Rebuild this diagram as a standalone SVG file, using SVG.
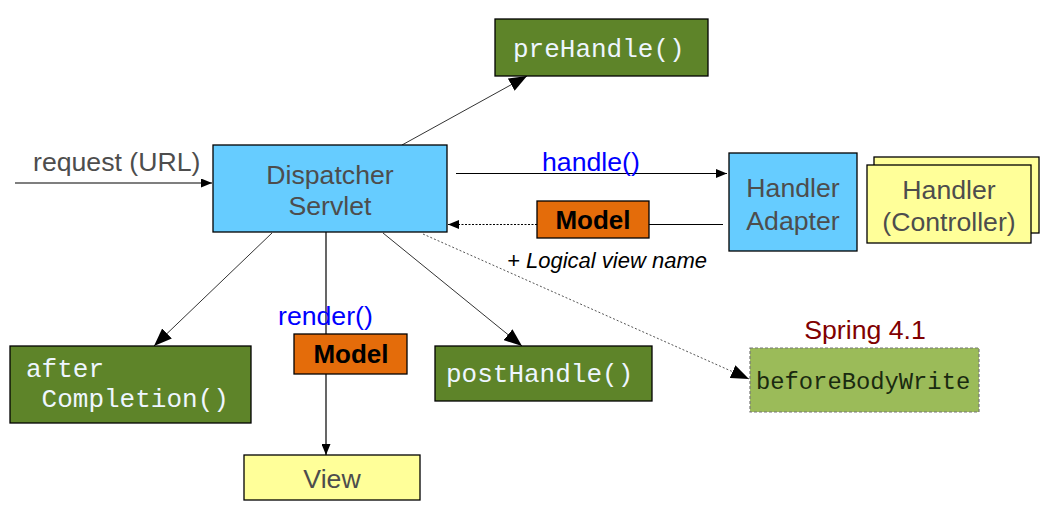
<svg xmlns="http://www.w3.org/2000/svg" width="1054" height="522" viewBox="0 0 1054 522">
<style>
.box{stroke:#000;stroke-width:1.3}
.blue{fill:#66ccff}
.green{fill:#5e8429}
.yellow{fill:#ffff99}
.orange{fill:#e46c0a}
.sans{font-family:"Liberation Sans",Arial,sans-serif;font-size:26.67px;fill:#4d4d4d}
.mono{font-family:"Liberation Mono","Courier New",monospace;font-size:26px;fill:#eef6ff}
.model{font-family:"Liberation Sans",Arial,sans-serif;font-size:26px;font-weight:bold;fill:#000}
.call{font-family:"Liberation Sans",Arial,sans-serif;font-size:26.67px;fill:#0000ff}
.ln{stroke:#000;stroke-width:1.2;fill:none}
.diag{stroke:#333;stroke-width:1;fill:none}
</style>
<defs>
<marker id="sm" markerUnits="userSpaceOnUse" markerWidth="11" markerHeight="9" refX="11" refY="4.5" orient="auto"><path d="M0,0 L11,4.5 L0,9 z" fill="#000"/></marker>
<marker id="lg" markerUnits="userSpaceOnUse" markerWidth="18" markerHeight="14" refX="18" refY="7" orient="auto"><path d="M0,0 L18,7 L0,14 z" fill="#000"/></marker>
</defs>
<rect width="1054" height="522" fill="#fff"/>
<g id="connectors">
<line class="ln" x1="15" y1="183" x2="212" y2="183" marker-end="url(#sm)"/>
<text class="sans" x="33" y="171">request (URL)</text>
<line class="diag" x1="402" y1="145" x2="527" y2="76" marker-end="url(#lg)"/>
<line class="ln" x1="456" y1="173.5" x2="727" y2="173.5" marker-end="url(#sm)"/>
<text class="call" x="542" y="171">handle()</text>
<line class="ln" x1="649" y1="224.5" x2="723" y2="224.5"/>
<line class="ln" x1="537" y1="224.5" x2="448" y2="224.5" stroke-dasharray="2,1.5" marker-end="url(#sm)"/>
<text x="507" y="268" font-family="'Liberation Sans',Arial,sans-serif" font-size="22" font-style="italic" fill="#000" textLength="200" lengthAdjust="spacingAndGlyphs">+ Logical view name</text>
<line x1="423" y1="234" x2="749" y2="379" stroke="#555" stroke-width="1" stroke-dasharray="2,2" marker-end="url(#lg)"/>
<line class="diag" x1="272" y1="233" x2="154" y2="346" marker-end="url(#lg)"/>
<line class="diag" x1="383" y1="233" x2="522" y2="346" marker-end="url(#lg)"/>
<line class="ln" x1="326" y1="232" x2="326" y2="455" marker-end="url(#sm)"/>
<text class="call" x="278" y="325">render()</text>
</g>
<g id="preHandle">
<rect class="box green" x="495" y="19" width="213" height="57"/>
<text class="mono" x="513" y="57">preHandle()</text>
</g>
<g id="dispatcher">
<rect class="box blue" x="213" y="145" width="234" height="87"/>
<text class="sans" x="330" y="184" text-anchor="middle">Dispatcher</text>
<text class="sans" x="330" y="215" text-anchor="middle">Servlet</text>
</g>
<g id="modelTop">
<rect class="box orange" x="537" y="201" width="112" height="37"/>
<text class="model" x="593" y="229" text-anchor="middle">Model</text>
</g>
<g id="handlerAdapter">
<rect class="box blue" x="729" y="153" width="128" height="98"/>
<text class="sans" x="793" y="197" text-anchor="middle">Handler</text>
<text class="sans" x="793" y="230" text-anchor="middle">Adapter</text>
</g>
<g id="handler">
<rect class="box yellow" x="874" y="157" width="165" height="76"/>
<rect class="box yellow" x="867" y="165" width="164" height="78"/>
<text class="sans" x="949" y="199" text-anchor="middle">Handler</text>
<text class="sans" x="949" y="231" text-anchor="middle">(Controller)</text>
</g>
<g id="afterCompletion">
<rect class="box green" x="10" y="346" width="241" height="77"/>
<text class="mono" x="26" y="377">after</text>
<text class="mono" x="26" y="407" xml:space="preserve"> Completion()</text>
</g>
<g id="modelBottom">
<rect class="box orange" x="294" y="334" width="113" height="40"/>
<text class="model" x="351" y="363" text-anchor="middle">Model</text>
</g>
<g id="view">
<rect class="box yellow" x="244" y="455" width="176" height="45"/>
<text class="sans" x="332" y="488" text-anchor="middle">View</text>
</g>
<g id="postHandle">
<rect class="box green" x="435" y="346" width="217" height="55"/>
<text class="mono" x="446" y="382">postHandle()</text>
</g>
<g id="beforeBodyWrite">
<text x="865" y="339" text-anchor="middle" font-family="'Liberation Sans',Arial,sans-serif" font-size="26.67" fill="#800000">Spring 4.1</text>
<rect x="750" y="348" width="229" height="64" fill="#9bbb59" stroke="#777" stroke-width="1.2" stroke-dasharray="3,2"/>
<text x="756" y="389" font-family="'Liberation Mono','Courier New',monospace" font-size="23.8" fill="#1a2a10">beforeBodyWrite</text>
</g>
</svg>
